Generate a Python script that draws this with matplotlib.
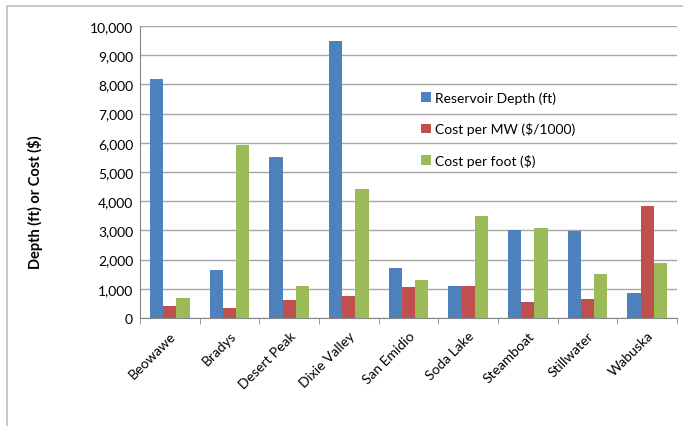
import matplotlib.pyplot as plt
from matplotlib.patches import Rectangle
from matplotlib.ticker import FuncFormatter
import numpy as np

plt.rcParams['font.family'] = ['Lato', 'DejaVu Sans']

sites = ["Beowawe", "Bradys", "Desert Peak", "Dixie Valley", "San Emidio",
         "Soda Lake", "Steamboat", "Stillwater", "Wabuska"]
depth = [8200, 1650, 5500, 9500, 1700, 1100, 3020, 2980, 850]
cost_mw = [400, 330, 620, 750, 1060, 1100, 560, 650, 3820]
cost_ft = [700, 5930, 1080, 4420, 1300, 3480, 3080, 1520, 1890]
series_names = ["Reservoir Depth (ft)", "Cost per MW ($/1000)", "Cost per foot ($)"]
colors = ["#4F81BD", "#C0504D", "#9BBB59"]

fig = plt.figure(figsize=(6.83, 4.27), dpi=100)
# outer chart frame
fig.patches.append(Rectangle((7/683, -0.05), 1.05, 1 - 7/427 + 0.05, transform=fig.transFigure,
                             fill=False, edgecolor="#BFBFBF", linewidth=1.2))
ax = fig.add_axes([140/683, 1 - 319/427, 537/683, 292/427])

x = np.arange(len(sites))
w = 0.22
for i, (vals, name) in enumerate(zip([depth, cost_mw, cost_ft], series_names)):
    ax.bar(x + (i - 1) * w, vals, w, color=colors[i], label=name, zorder=3)

ax.set_xlim(-0.5, len(sites) - 0.5)
ax.set_ylim(0, 10000)
ax.set_yticks(np.arange(0, 10001, 1000))
ax.yaxis.set_major_formatter(FuncFormatter(lambda v, p: f"{int(v):,}"))
ax.grid(axis='y', color="#A6A6A6", linewidth=1, zorder=0)
ax.set_axisbelow(True)

ax.set_xticks(x)
ax.set_xticklabels(sites, rotation=45, ha='right', rotation_mode='anchor', fontsize=10)
ax.set_xticks(np.arange(-0.5, len(sites)), minor=True)
ax.tick_params(axis='x', which='major', length=0, pad=8)
ax.tick_params(axis='x', which='minor', length=4, color="#868686", direction='out')
ax.tick_params(axis='y', length=0, labelsize=10, pad=5)

for s in ['top', 'right']:
    ax.spines[s].set_visible(False)
for s in ['left', 'bottom']:
    ax.spines[s].set_color("#868686")

ax.set_ylabel("Depth (ft) or Cost ($)", fontsize=10.5, fontweight='bold')
ax.yaxis.set_label_coords(-0.18, 0.40)

ax.legend(loc='upper left', bbox_to_anchor=(0.5, 0.82), frameon=False, fontsize=10,
          handlelength=0.7, handleheight=0.7, handletextpad=0.3, labelspacing=1.35)

fig.savefig("out.png", dpi=100)
